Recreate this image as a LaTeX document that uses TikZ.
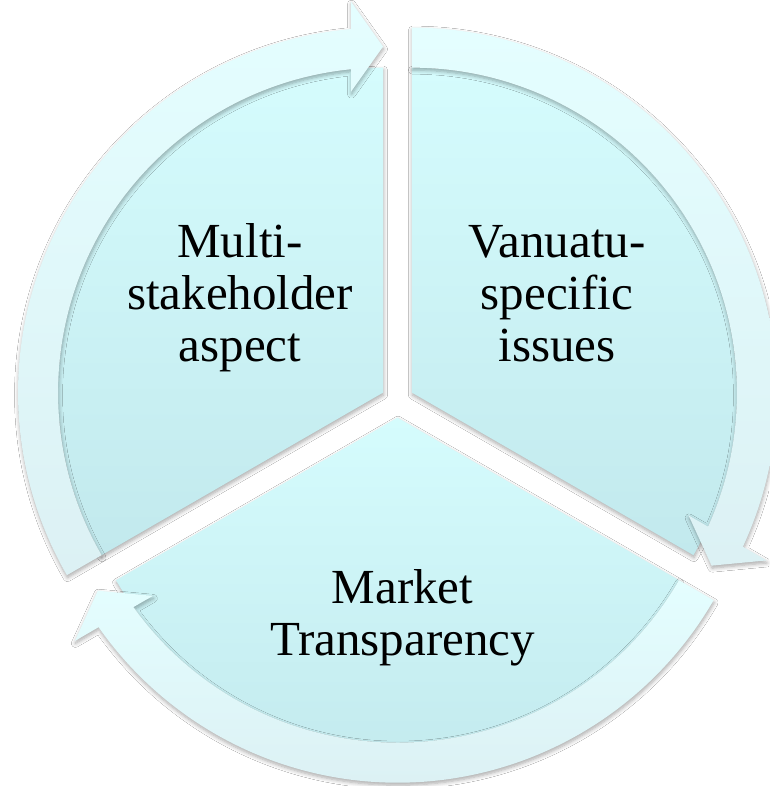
\documentclass[tikz,border=0pt]{standalone}
\usepackage{fontspec}
\setmainfont{Liberation Serif}
\usetikzlibrary{shadows.blur}
\definecolor{pietop}{HTML}{D5FCFD}
\definecolor{piebot}{HTML}{C2E9ED}
\definecolor{bandtop}{HTML}{E4FEFF}
\definecolor{bandbot}{HTML}{DCF1F4}
\tikzset{
  softshadow/.style={blur shadow={shadow xshift=0.5pt, shadow yshift=-2.5pt,
      shadow blur radius=4pt, shadow blur steps=6, shadow opacity=34}},
  piepart/.style={top color=pietop, bottom color=piebot, draw=none, softshadow},
  bandpart/.style={top color=bandtop, bottom color=bandbot, draw=none, softshadow},
  seglabel/.style={align=center, anchor=base, inner sep=0pt,
      font=\fontsize{49}{52}\selectfont, text=black}
}
\begin{document}
\begin{tikzpicture}
\useasboundingbox (-397.5pt,-385pt) rectangle (371.5pt,401pt);
\fill[white] (-397.5pt,-385pt) rectangle (371.5pt,401pt);
\foreach \t in {150,30,270}{
  \pgfmathsetmacro{\p}{\t-60}
  \begin{scope}[shift={(\t:16.7pt)}]
    % pie segment
    \path[piepart] (0pt,0pt) -- (\p:325pt)
       arc[start angle=\p, end angle=\p+120, radius=325pt] -- cycle;
    % curved arrow band
    \path[bandpart] (\p+120:365pt)
       arc[start angle=\p+120, end angle=\p+5.03, radius=365pt]
       -- (\p+4.679:392.3pt) -- (\p:346pt) -- (\p+6.068:302.7pt)
       -- (\p+5.65:325pt)
       arc[start angle=\p+5.65, end angle=\p+120, radius=325pt] -- cycle;
  \end{scope}
}
\node[seglabel] (ms) at (-157.5pt,39pt) {Multi-\\stakeholder\\aspect};
\node[seglabel] (vs) at (159.5pt,39pt) {Vanuatu-\\specific\\issues};
\node[seglabel] (mt) at (5pt,-254pt) {Market\\Transparency};
\end{tikzpicture}
\end{document}
